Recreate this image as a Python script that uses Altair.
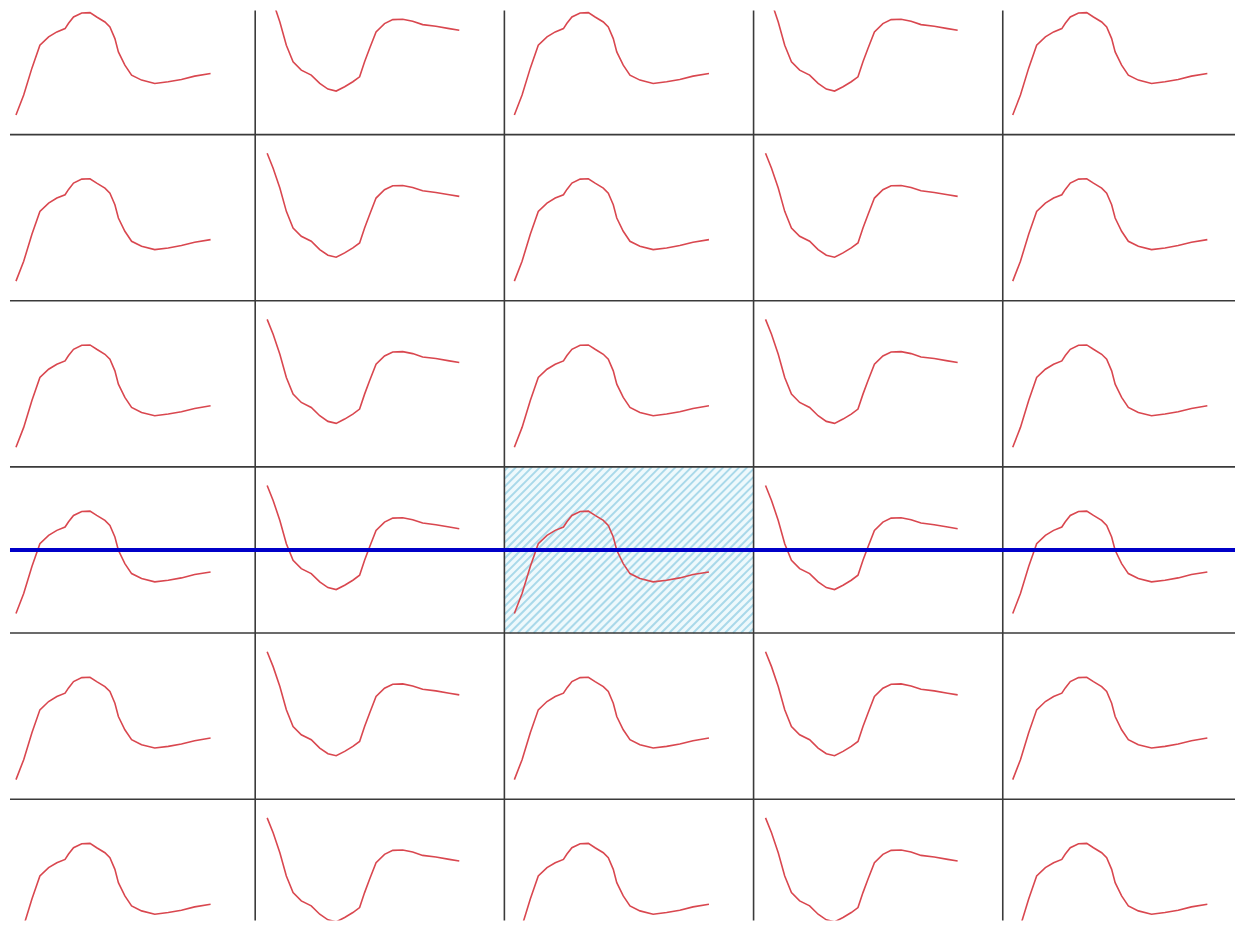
import altair as alt
import pandas as pd

# Grid layout (cells in column / row units)
columns = [0, 1, 2, 3, 4]
rows = [0, 1, 2, 3, 4, 5]
col_curve = ["A", "B", "A", "B", "A"]   # which curve is drawn in each column

# Curve A (rise, peak, fall, slow rise) : t = % of cell width, val = % of cell height (0 = bottom)
curveA_t = [4.0, 7.1, 10.4, 13.6, 17.1, 20.4, 23.7, 25.1, 27.1, 30.4, 33.7, 36.4, 39.7, 41.7,
            43.7, 45.1, 47.7, 50.4, 54.4, 59.7, 65.1, 70.4, 75.7, 82.1]
curveA_v = [11.8, 23.8, 40.0, 53.8, 58.8, 61.8, 63.8, 67.0, 70.8, 73.2, 73.4, 70.8, 67.8, 64.8,
            57.8, 49.8, 41.8, 35.8, 32.8, 30.8, 31.8, 33.2, 35.2, 36.8]

# Curve B (fall, trough, rise, slow decline)
curveB_t = [4.8, 7.2, 9.9, 12.5, 15.2, 18.5, 22.5, 25.9, 29.2, 32.5, 35.9, 39.2, 41.9, 43.9,
            45.9, 48.5, 51.9, 55.2, 59.2, 63.2, 67.2, 72.5, 77.9, 81.9]
curveB_v = [88.8, 79.8, 67.8, 53.8, 43.8, 38.8, 35.8, 30.8, 27.4, 26.2, 28.8, 31.8, 34.8, 43.8,
            51.8, 61.8, 66.8, 69.2, 69.4, 68.2, 66.2, 65.2, 63.8, 62.8]

# Highlighted (hatched) cell and marker line
hi_col, hi_row = 2, 3
marker_row_pos = 3.5

curves = {"A": (curveA_t, curveA_v), "B": (curveB_t, curveB_v)}

recs = []
for r in rows:
    for c in columns:
        ts, vs = curves[col_curve[c]]
        for i, (t, v) in enumerate(zip(ts, vs)):
            recs.append({"cell": f"{r}-{c}", "i": i, "u": c + t / 100.0, "v": r + (100.0 - v) / 100.0})
lines_df = pd.DataFrame(recs)

vgrid_df = pd.DataFrame({"u": columns[1:]})
hgrid_df = pd.DataFrame({"v": rows[1:]})
cell_df = pd.DataFrame({"u": [hi_col], "u2": [hi_col + 1], "v": [hi_row], "v2": [hi_row + 1]})
marker_df = pd.DataFrame({"v": [marker_row_pos]})

W, H = 1229, 913
CW, CH = 250.0, 166.7  # cell size in pixels (for hatch geometry)

xs = alt.Scale(domain=[0.016, 4.932], nice=False, zero=False)
ys = alt.Scale(domain=[0.253, 5.730], nice=False, zero=False, reverse=True)

cell = alt.Chart(cell_df).mark_rect(color="#eef9fc").encode(
    x=alt.X("u:Q", scale=xs, axis=None), x2="u2:Q",
    y=alt.Y("v:Q", scale=ys, axis=None), y2="v2:Q")

hatch = alt.Chart(alt.sequence(4, CW + CH, 8, as_="c")).transform_calculate(
    x1=f"datum.c <= {CH} ? 0 : datum.c - {CH}",
    y1=f"datum.c <= {CH} ? datum.c : {CH}",
    x2p=f"datum.c <= {CW} ? datum.c : {CW}",
    y2p=f"datum.c <= {CW} ? 0 : datum.c - {CW}",
).transform_calculate(
    hu=f"{hi_col} + datum.x1 / {CW}",
    hv=f"{hi_row} + datum.y1 / {CH}",
    hu2=f"{hi_col} + datum.x2p / {CW}",
    hv2=f"{hi_row} + datum.y2p / {CH}",
).mark_rule(color="#a9d9ea", strokeWidth=2).encode(
    x=alt.X("hu:Q", scale=xs, axis=None), x2="hu2:Q",
    y=alt.Y("hv:Q", scale=ys, axis=None), y2="hv2:Q")

vgrid = alt.Chart(vgrid_df).mark_rule(color="#3a3a3a", strokeWidth=1.6).encode(
    x=alt.X("u:Q", scale=xs, axis=None))
hgrid = alt.Chart(hgrid_df).mark_rule(color="#3a3a3a", strokeWidth=1.6).encode(
    y=alt.Y("v:Q", scale=ys, axis=None))

lines = alt.Chart(lines_df).mark_line(color="#d9474f", strokeWidth=1.6, clip=True).encode(
    x=alt.X("u:Q", scale=xs, axis=None),
    y=alt.Y("v:Q", scale=ys, axis=None),
    detail="cell:N", order="i:Q")

marker = alt.Chart(marker_df).mark_rule(color="#0000c8", strokeWidth=4).encode(
    y=alt.Y("v:Q", scale=ys, axis=None))

chart = alt.layer(cell, hatch, vgrid, hgrid, lines, marker).properties(
    width=W, height=H, padding=0, background="white"
).configure_view(stroke=None)

chart.save("out.html", embed_options={"renderer": "svg", "actions": False})
